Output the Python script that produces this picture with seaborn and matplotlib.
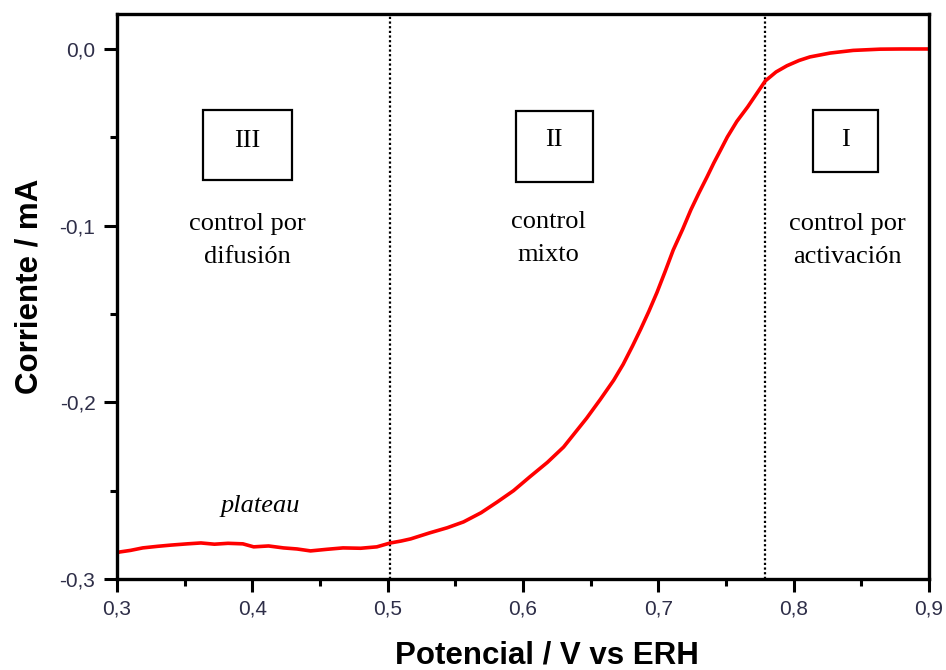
import numpy as np
import pandas as pd
import matplotlib
matplotlib.use("Agg")
import matplotlib.pyplot as plt
from matplotlib.patches import Rectangle
from matplotlib.ticker import MultipleLocator, FixedLocator, FixedFormatter
import seaborn as sns

# Linear sweep: potential (V vs ERH) and measured current (mA)
potential = [0.300, 0.302, 0.310, 0.319, 0.330, 0.340, 0.352, 0.362, 0.372, 0.382,
             0.393, 0.401, 0.412, 0.423, 0.433, 0.443, 0.455, 0.467, 0.480, 0.492,
             0.502, 0.510, 0.517, 0.531, 0.544, 0.556, 0.569, 0.581, 0.593, 0.605,
             0.618, 0.630, 0.647, 0.657, 0.667, 0.674, 0.681, 0.687, 0.693, 0.699,
             0.705, 0.711, 0.718, 0.724, 0.730, 0.736, 0.741, 0.746, 0.751, 0.758,
             0.766, 0.779, 0.787, 0.795, 0.804, 0.812, 0.827, 0.844, 0.864, 0.880,
             0.900]
current = [-0.2852, -0.2847, -0.2838, -0.2824, -0.2815, -0.2808, -0.2801, -0.2796, -0.2803, -0.2798,
           -0.2801, -0.2818, -0.2813, -0.2824, -0.2830, -0.2841, -0.2832, -0.2824, -0.2826, -0.2818,
           -0.2796, -0.2785, -0.2773, -0.2739, -0.2710, -0.2677, -0.2625, -0.2564, -0.2500, -0.2422,
           -0.2340, -0.2253, -0.2090, -0.1985, -0.1875, -0.1785, -0.1680, -0.1585, -0.1485, -0.1378,
           -0.1260, -0.1138, -0.1020, -0.0911, -0.0815, -0.0724, -0.0645, -0.0572, -0.0498, -0.0410,
           -0.0328, -0.0181, -0.0130, -0.0095, -0.0065, -0.0045, -0.0023, -0.0008, -0.0001, 0.0000,
           0.0000]

# Boundaries between kinetic regimes
region_limits = [0.502, 0.779]

x_ticks = [0.3, 0.4, 0.5, 0.6, 0.7, 0.8, 0.9]
x_tick_labels = ["0,3", "0,4", "0,5", "0,6", "0,7", "0,8", "0,9"]
y_ticks = [-0.3, -0.2, -0.1, 0.0]
y_tick_labels = ["-0,3", "-0,2", "-0,1", "0,0"]

region_numerals = ["III", "II", "I"]
region_captions = ["control por\ndifusión", "control\nmixto", "control por\nactivación"]

sns.set_style("ticks")
plt.rcParams["font.family"] = ["Liberation Sans", "DejaVu Sans"]

W, H = 946, 670
fig = plt.figure(figsize=(W / 100, H / 100), dpi=100)
ax_l, ax_r, ax_t, ax_b = 117, 929, 14, 579
ax = fig.add_axes([ax_l / W, 1 - ax_b / H, (ax_r - ax_l) / W, (ax_b - ax_t) / H])

df = pd.DataFrame({"Potencial": potential, "Corriente": current})
sns.lineplot(data=df, x="Potencial", y="Corriente", color="#ff0000", lw=2.6,
             sort=False, estimator=None, ax=ax)

for xv in region_limits:
    ax.axvline(xv, color="black", lw=1.6, linestyle=(0, (1, 1.1)), zorder=1)

ax.set_xlim(0.3, 0.9)
ax.set_ylim(-0.3, 0.0198)

ax.xaxis.set_major_locator(FixedLocator(x_ticks))
ax.xaxis.set_major_formatter(FixedFormatter(x_tick_labels))
ax.yaxis.set_major_locator(FixedLocator(y_ticks))
ax.yaxis.set_major_formatter(FixedFormatter(y_tick_labels))
ax.xaxis.set_minor_locator(MultipleLocator(0.05))
ax.yaxis.set_minor_locator(MultipleLocator(0.05))

tick_color = "#2e2e48"
ax.tick_params(axis="both", which="major", direction="out", length=9.5, width=2.2,
               labelsize=15, labelcolor=tick_color, color="black")
ax.tick_params(axis="both", which="minor", direction="out", length=5, width=2.2, color="black")
ax.tick_params(axis="y", which="major", pad=6)
ax.tick_params(axis="x", which="major", pad=5)
ax.tick_params(top=False, right=False, which="both")

for side in ["left", "right", "top", "bottom"]:
    ax.spines[side].set_visible(True)
    ax.spines[side].set_linewidth(2.4)
    ax.spines[side].set_color("black")

ax.set_xlabel("Potencial / V vs ERH", fontsize=22.5, fontweight="bold", color="black")
ax.set_ylabel("Corriente / mA", fontsize=22.5, fontweight="bold", color="black")
ax.xaxis.label.set_va("baseline")
ax.yaxis.label.set_va("baseline")
ax.xaxis.set_label_coords(0.529, -0.150)
ax.yaxis.set_label_coords(-0.0985, 0.5186)

serif = ["Liberation Serif", "DejaVu Serif"]

# Region numeral boxes (axes fractions)
boxes = [(0.1059, 0.7062, 0.2155, 0.8301),
         (0.4914, 0.7027, 0.5862, 0.8283),
         (0.8571, 0.7204, 0.9372, 0.8301)]
numeral_pos = [(0.1601, 0.7752), (0.538, 0.777), (0.8975, 0.777)]
# baseline of the second caption line
caption_pos = [(0.160, 0.5593), (0.531, 0.5634), (0.900, 0.5593)]

for (x0, y0, x1, y1), (nx, ny), (cx, cy), num, cap in zip(
        boxes, numeral_pos, caption_pos, region_numerals, region_captions):
    ax.add_patch(Rectangle((x0, y0), x1 - x0, y1 - y0, transform=ax.transAxes,
                           fill=False, edgecolor="black", lw=1.6, zorder=3))
    ax.text(nx, ny, num, transform=ax.transAxes, ha="center", va="center",
            fontsize=19, family=serif, color="black")
    ax.text(cx, cy, cap, transform=ax.transAxes, ha="center", va="baseline",
            multialignment="center", linespacing=1.65, fontsize=19,
            family=serif, color="black")

ax.text(0.176, 0.1186, "plateau", transform=ax.transAxes, ha="center", va="baseline",
        fontsize=19, style="italic", family=serif, color="black")

fig.savefig("out.png", dpi=100)
